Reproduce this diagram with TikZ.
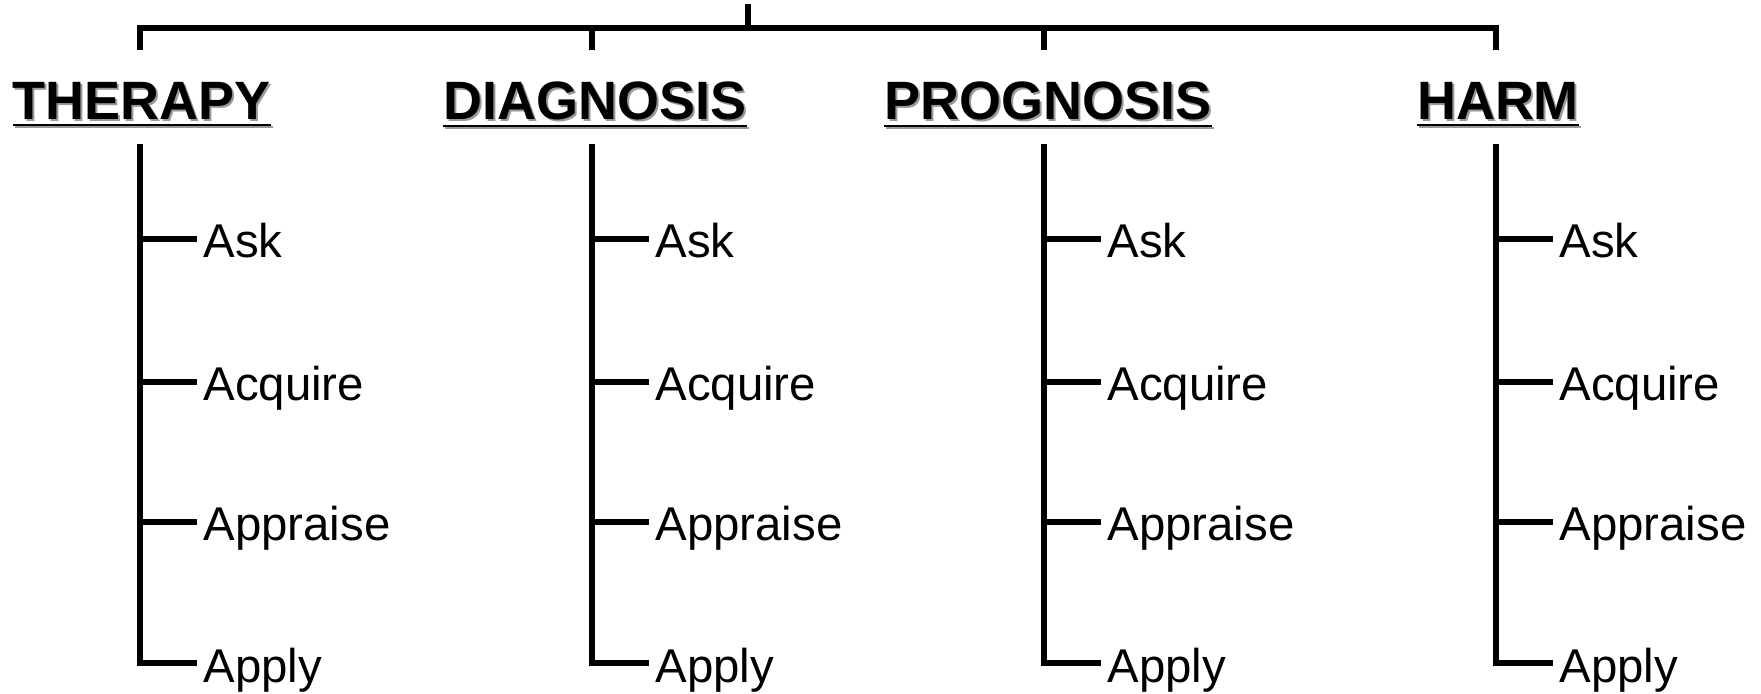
\documentclass[tikz,border=0pt]{standalone}
\usepackage{fontspec}
\setmainfont{Liberation Sans}
\usepackage{tikz}
\tikzset{tree/.style = {line width = 3.2pt, line join = miter}}
\tikzset{head/.style = {anchor = base, inner sep = 0pt, font = \bfseries\fontsize{27}{30}\selectfont}}
\tikzset{headshadow/.style = {head, text = black!40}}
\tikzset{item/.style = {anchor = west, inner xsep = 3pt, inner ysep = 0pt, text height = 19pt, text depth = 0pt, font = \fontsize{23.7}{28}\selectfont}}

\begin{document}
\begin{tikzpicture}[x = 0.5pt, y = -0.5pt]
				\useasboundingbox (0, 0) rectangle (1761, 694);

				\node[headshadow] (therapy-sh) at (144, 122) {THERAPY};
				\node[headshadow] (diagnosis-sh) at (597, 122) {DIAGNOSIS};
				\node[headshadow] (prognosis-sh) at (1050, 122) {PROGNOSIS};
				\node[headshadow] (harm-sh) at (1500, 122) {HARM};
				\node[head] (therapy) at (142, 120) {THERAPY};
				\node[head] (diagnosis) at (595, 120) {DIAGNOSIS};
				\node[head] (prognosis) at (1048, 120) {PROGNOSIS};
				\node[head] (harm) at (1498, 120) {HARM};

				\draw[line width = 1pt, black!40] ([yshift = -2.5pt]therapy-sh.south west) -- ([yshift = -2.5pt]therapy-sh.south east);
				\draw[line width = 1pt, black!40] ([yshift = -2.5pt]diagnosis-sh.south west) -- ([yshift = -2.5pt]diagnosis-sh.south east);
				\draw[line width = 1pt, black!40] ([yshift = -2.5pt]prognosis-sh.south west) -- ([yshift = -2.5pt]prognosis-sh.south east);
				\draw[line width = 1pt, black!40] ([yshift = -2.5pt]harm-sh.south west) -- ([yshift = -2.5pt]harm-sh.south east);
				\draw[line width = 1pt] ([yshift = -2.5pt]therapy.south west) -- ([yshift = -2.5pt]therapy.south east);
				\draw[line width = 1pt] ([yshift = -2.5pt]diagnosis.south west) -- ([yshift = -2.5pt]diagnosis.south east);
				\draw[line width = 1pt] ([yshift = -2.5pt]prognosis.south west) -- ([yshift = -2.5pt]prognosis.south east);
				\draw[line width = 1pt] ([yshift = -2.5pt]harm.south west) -- ([yshift = -2.5pt]harm.south east);

				\coordinate (root) at (748, 4);
				\coordinate (hub) at (748, 28);
				\coordinate (therapy-drop) at (140, 50);
				\coordinate (diagnosis-drop) at (592, 50);
				\coordinate (prognosis-drop) at (1044, 50);
				\coordinate (harm-drop) at (1496, 50);

				\draw[tree] (root) to (hub);
				\draw[tree] (therapy-drop) -- (therapy-drop |- hub) -- (harm-drop |- hub) -- (harm-drop);
				\draw[tree] (diagnosis-drop) to (diagnosis-drop |- hub);
				\draw[tree] (prognosis-drop) to (prognosis-drop |- hub);

				\coordinate (therapy-col) at (140, 144);
				\coordinate (diagnosis-col) at (592, 144);
				\coordinate (prognosis-col) at (1044, 144);
				\coordinate (harm-col) at (1496, 144);

				\node[item] (therapy-ask) at (197, 239) {Ask};
				\node[item] (therapy-acquire) at (197, 382) {Acquire};
				\node[item] (therapy-appraise) at (197, 522) {Appraise};
				\node[item] (therapy-apply) at (197, 663) {Apply};
				\node[item] (diagnosis-ask) at (649, 239) {Ask};
				\node[item] (diagnosis-acquire) at (649, 382) {Acquire};
				\node[item] (diagnosis-appraise) at (649, 522) {Appraise};
				\node[item] (diagnosis-apply) at (649, 663) {Apply};
				\node[item] (prognosis-ask) at (1101, 239) {Ask};
				\node[item] (prognosis-acquire) at (1101, 382) {Acquire};
				\node[item] (prognosis-appraise) at (1101, 522) {Appraise};
				\node[item] (prognosis-apply) at (1101, 663) {Apply};
				\node[item] (harm-ask) at (1553, 239) {Ask};
				\node[item] (harm-acquire) at (1553, 382) {Acquire};
				\node[item] (harm-appraise) at (1553, 522) {Appraise};
				\node[item] (harm-apply) at (1553, 663) {Apply};

				\draw[tree] (therapy-col) |- (therapy-apply.west);
				\draw[tree] (therapy-ask.west -| therapy-col) to (therapy-ask.west);
				\draw[tree] (therapy-acquire.west -| therapy-col) to (therapy-acquire.west);
				\draw[tree] (therapy-appraise.west -| therapy-col) to (therapy-appraise.west);
				\draw[tree] (diagnosis-col) |- (diagnosis-apply.west);
				\draw[tree] (diagnosis-ask.west -| diagnosis-col) to (diagnosis-ask.west);
				\draw[tree] (diagnosis-acquire.west -| diagnosis-col) to (diagnosis-acquire.west);
				\draw[tree] (diagnosis-appraise.west -| diagnosis-col) to (diagnosis-appraise.west);
				\draw[tree] (prognosis-col) |- (prognosis-apply.west);
				\draw[tree] (prognosis-ask.west -| prognosis-col) to (prognosis-ask.west);
				\draw[tree] (prognosis-acquire.west -| prognosis-col) to (prognosis-acquire.west);
				\draw[tree] (prognosis-appraise.west -| prognosis-col) to (prognosis-appraise.west);
				\draw[tree] (harm-col) |- (harm-apply.west);
				\draw[tree] (harm-ask.west -| harm-col) to (harm-ask.west);
				\draw[tree] (harm-acquire.west -| harm-col) to (harm-acquire.west);
				\draw[tree] (harm-appraise.west -| harm-col) to (harm-appraise.west);
			\end{tikzpicture}
\end{document}
